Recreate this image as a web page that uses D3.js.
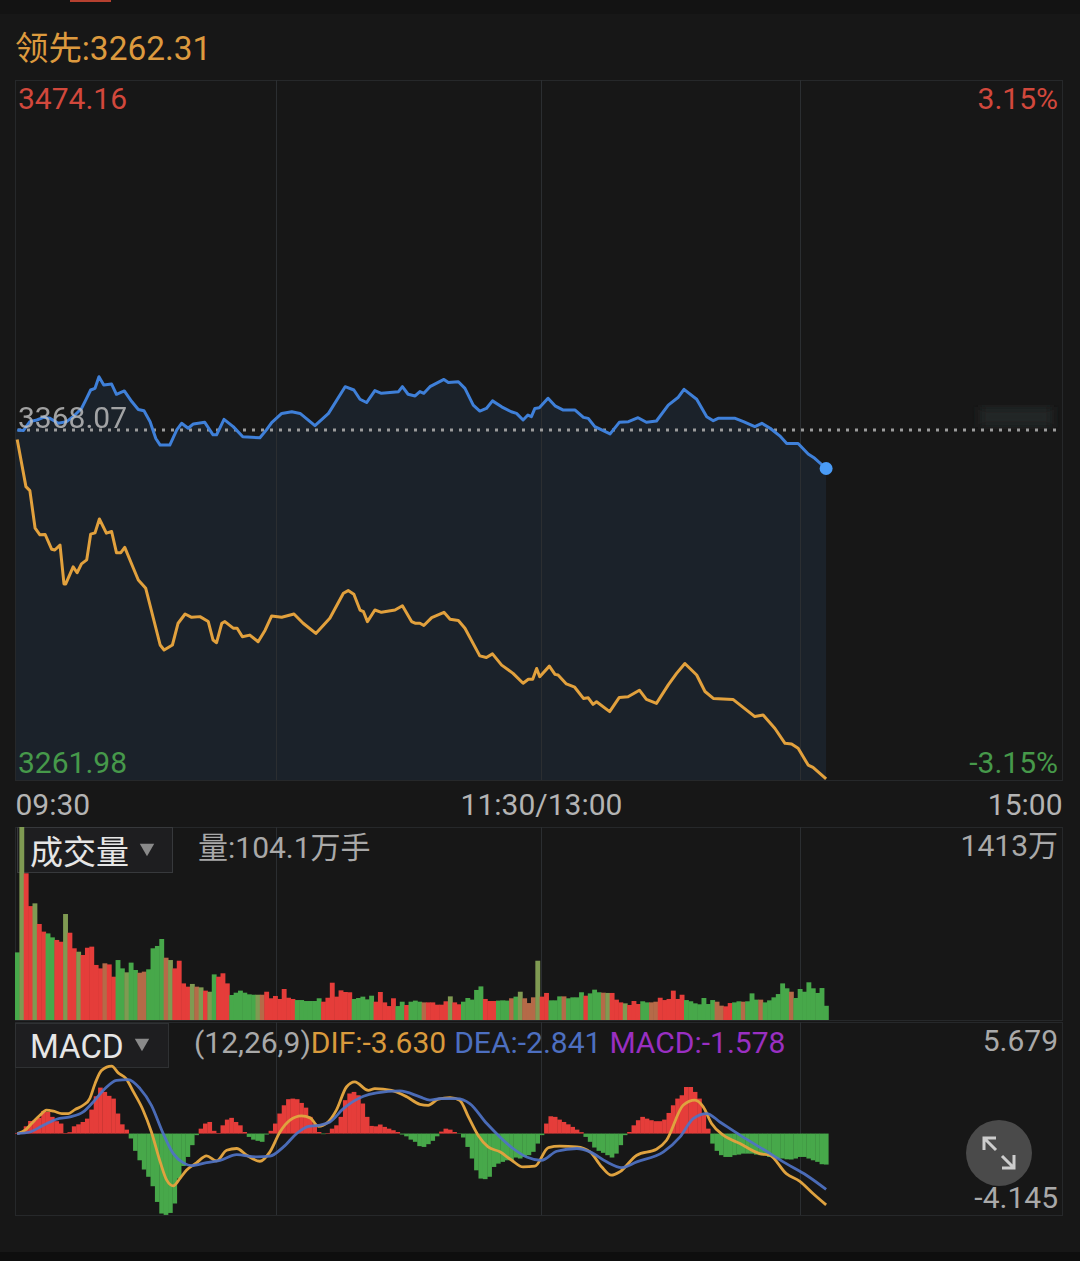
<!DOCTYPE html>
<html>
<head>
<meta charset="utf-8">
<script src="https://cdn.jsdelivr.net/npm/d3@7"></script>
<style>
    html, body { margin: 0; padding: 0; background: #171717; }
    text { font-family: Roboto, "Noto Sans CJK SC", sans-serif; }
</style>
</head>
<body>
<div id="chart"></div>
<script>
// values
const prevClose = 3368.07;
const priceTop = 3474.16;
const priceBottom = 3261.98;

const priceMin = [0,1.4,2.9,4.5,6,7.5,9.4,11.3,13.2,14.7,15.7,16.8,17.8,18.7,19.8,21.6,22.7,24.5,26.2,27.7,29,30.4,31.7,32.7,34.9,36.5,37.6,39.1,40.3,42.9,44.8,45.6,47.3,49.4,51.6,55.5,57,58.2,60.5,62.8,64.7,68.1,71.2,75,77,78.4,79.9,81.8,83.3,87.2,88.1,89.4,91,92.1,93,94.4,97.6,98.6,100.9,102.4,104.3,105.8,107.3,108.7,110.8,113,114.2,115.7,116.8,117.6,118.4,119.4,121.4,123,124.9,127.6,129.5,130.6,132.1,135.6,137.7,139.8,142,143.9,146.2,148.9,151.2,152.5,155.4,157.7,159.2,160.3,164.2,166.1,168.7,170.3,172.2,174.4,176,178.6,180.9,182.4,185];
const price = [3368.1,3367.9,3370.6,3371.1,3371.9,3371.6,3370.1,3370.6,3372.6,3374.6,3377.2,3380.2,3380.7,3384.2,3381.7,3382,3378.9,3379.9,3376.7,3374.3,3373.9,3370.6,3365.5,3363.5,3363.5,3368.1,3370.1,3368.6,3369.9,3370.4,3366.6,3366.6,3371.3,3369.1,3366,3365.7,3368.1,3370.3,3373.1,3373.6,3373.1,3369.4,3373.1,3381.2,3380.2,3377.4,3376.4,3380,3379.2,3379.7,3381.2,3378.9,3378.4,3379.7,3379.2,3381.2,3383.4,3382.5,3382.7,3380.7,3375.6,3373.8,3374.6,3376.9,3375.1,3373.6,3373.1,3371.1,3372.6,3372.1,3374.6,3374.8,3377.7,3375.4,3374.1,3374.1,3371.9,3371.6,3369.1,3366.9,3370.4,3370.6,3371.8,3370.4,3370.8,3375.6,3378,3380.4,3377.4,3372.1,3370.9,3371.6,3371.6,3370.6,3369.1,3370.1,3368.6,3366.3,3364,3364,3360.8,3359.5,3356.4];

const leadMin = [0,2,2.9,4.1,5.2,6.4,7.9,8.6,9.8,10.7,11.1,12.8,13.7,14.7,15.9,16.8,17.8,18.8,20.4,21.6,22.7,23.7,24.6,26.6,27.7,29.4,32.7,33.6,35.5,36.8,38.4,39.9,41.8,43.7,44.8,45.6,46.8,47.5,49.4,50.3,51.5,53.2,55.1,56.7,58.2,60.5,63.3,65.4,68.3,71.5,74.6,75.7,77,78.4,79.2,80.1,81.8,83.3,86.4,88.1,90.2,91,92.1,93,94.8,97.6,99,100.9,102.4,105.8,107.3,108.7,110.8,113.4,115.7,116.9,117.9,118.8,119.5,121.7,123,123.7,125.6,127.5,129.5,130.6,131.7,132.5,135.5,137.7,139.7,142.3,143.9,146.2,148.9,150.8,152.7,155.4,157.3,159.2,163.7,168.7,170.6,173.3,175.6,177.1,178.6,180.9,182,185];
const lead = [3365.2,3350.9,3349.7,3338.3,3336.3,3336.4,3331.9,3331.7,3333.2,3321.4,3321.4,3326.6,3324.8,3327.5,3328.7,3336.5,3336.9,3341.1,3336.8,3337.3,3330.9,3330.9,3332.5,3326.1,3322.6,3320.1,3302.9,3301.4,3302.9,3309.5,3312.3,3311.3,3311.5,3310,3304.4,3303.6,3309.5,3310,3308,3308,3305.4,3305.9,3303.9,3307.4,3311.7,3311.3,3312.3,3309.5,3306.4,3311,3318.6,3319.4,3318.3,3313.5,3313,3310,3313.5,3312.8,3313.5,3314.8,3310,3309.5,3309.5,3308.8,3311.2,3312.8,3310.7,3310.3,3308,3299.6,3299.1,3300.2,3296.8,3294.3,3291.3,3292.5,3292.5,3295.8,3293.3,3296.5,3294,3293.8,3291.1,3290.1,3286.7,3286.9,3284.9,3285.7,3282.7,3287,3287.2,3289.2,3286.4,3285.2,3290.8,3294.3,3297.3,3293.8,3288.8,3286.7,3286.4,3281.2,3281.7,3277.6,3273.1,3272.9,3271.6,3266.5,3265.8,3262.31];

// one bar per minute, in 万手
const volume = [495,1413,1074,834,854,703,647,634,605,586,
    573,776,639,525,500,476,529,537,403,378,
    415,407,317,439,378,349,420,366,346,354,
    371,525,542,593,456,439,378,434,268,244,
    264,244,239,215,207,334,317,342,268,183,
    200,215,200,188,185,185,185,207,159,176,
    154,227,163,154,146,146,139,139,139,159,
    134,163,273,171,217,205,203,154,161,171,
    151,178,134,205,129,102,159,102,134,110,
    134,142,134,129,129,129,112,112,137,173,
    129,115,134,161,149,220,246,154,139,139,
    142,144,142,159,171,207,159,124,166,434,
    171,198,144,144,173,173,159,166,166,203,
    178,195,222,203,200,198,198,149,129,122,
    110,139,117,137,129,129,134,163,146,154,
    215,154,185,146,137,122,115,161,117,146,
    134,105,100,124,129,137,134,137,195,149,
    149,129,144,166,190,268,232,207,161,227,
    207,276,232,198,234,104.1];

// r = up, g = down, o / b = the muddy bars where red and green blend
const volumeSide = ("gorrorrggr" + "rorrorrrrr" + "brrggoggbb" + "ggggborrrr" + "oborogrrrg" +
    "gggggobrrr" + "rrrrgggggg" + "rrrrrrrggg" + "ggrrrrrggr" + "gggbrrrrro" +
    "rrgggggrrr" + "gggbgobbbo" + "rrgggbgggg" + "rgggborrro" + "rrrggbbrrr" +
    "rrrggggggg" + "bbrrggbggg" + "bggggggbgg" + "gggggg").split("");

const macd = [.03,.08,.37,.64,.68,.80,1.15,1.10,.85,.63,
    .51,.03,.07,.37,.47,.59,.76,1.22,1.90,2.34,
    2.12,1.92,1.78,1.02,.47,.20,-.25,-.88,-1.36,-1.83,
    -2.20,-2.68,-3.48,-4.07,-4.14,-4.04,-3.56,-2.29,-1.65,-1.19,
    -.59,-.08,.25,.51,.59,.14,.03,.42,.71,.80,
    .59,.42,.08,-.17,-.31,-.37,-.42,-.05,.14,.51,
    1.02,1.44,1.75,1.78,1.75,1.56,1.32,.85,.51,.08,
    -.03,.03,.25,.42,.85,1.70,2.04,2.12,1.95,1.53,
    .85,.39,.37,.46,.34,.25,.17,.08,-.05,-.14,
    -.31,-.42,-.64,-.68,-.54,-.37,-.14,.10,.25,.20,
    .08,-.02,-.20,-.68,-1.27,-1.87,-2.29,-2.32,-2.20,-1.70,
    -1.53,-1.44,-1.36,-1.36,-1.22,-1.27,-1.19,-1.10,-.93,-.51,
    -.08,.51,.88,.85,.71,.59,.47,.34,.20,.07,
    -.17,-.42,-.71,-.88,-.98,-1.10,-1.22,-1.02,-.59,-.08,
    .08,.42,.68,.85,.76,.68,.63,.63,.71,1.05,
    1.44,1.78,1.95,2.37,2.37,2.12,1.78,1.02,.25,-.51,
    -.88,-1.10,-1.19,-1.19,-1.10,-1.07,-1.02,-1.02,-1.02,-1.07,
    -1.10,-1.10,-1.19,-1.22,-1.27,-1.27,-1.31,-1.32,-1.27,-1.19,
    -1.19,-1.27,-1.36,-1.44,-1.56,-1.578];

const difMin = [0,1.8,3.3,5.2,6.7,8.3,10.2,11.7,13.2,15.1,16.6,17.8,19.3,21.6,23.1,24.9,26.6,28.8,30.7,32.7,34.2,35.7,37.2,38.7,41,43.3,45.6,47.9,50.2,52.5,55.5,57.8,60.1,62.4,65,67,68.9,71.1,73,75.3,77.2,80.3,81.8,85.6,89.1,92.1,94,96.3,99,101.2,103.2,105.4,107.7,110.4,113.1,115.7,118.4,121.5,124.1,128,131,133.7,135.9,137.8,141.7,146.2,148.5,152.3,155,156.9,158.8,161.5,165.3,169.8,172.1,175.9,179,182,185];
const dif = [0,.17,.51,.93,1.19,1.14,1.02,1.02,1.22,1.44,1.78,2.54,3.22,3.43,3.09,2.80,2.12,1.19,.08,-1.44,-2.37,-2.66,-2.29,-1.87,-1.49,-1.14,-1.39,-.85,-.76,-1.10,-1.41,-.93,.08,.68,.90,.80,.37,.59,1.19,2.37,2.63,2.20,2.29,2.20,1.87,1.49,1.44,1.75,1.83,1.70,.85,-.08,-.68,-.93,-1.36,-1.70,-1.66,-.71,-.64,-.68,-.93,-1.70,-2.12,-1.95,-1.10,-.80,-.34,1.44,1.70,1.36,.51,-.08,-.51,-1.02,-1.10,-2.04,-2.43,-3.05,-3.63];

const deaMin = [0,2.9,6,9,12.1,15.1,17.4,20.1,22.7,25.4,28.1,30.7,33.4,35.7,38,39.9,43.3,46.4,50.2,54.8,57.8,60.9,63.9,66.6,68.9,71.5,74.6,79.2,82.2,87.5,92.1,94.4,96.7,100.5,103.5,107.4,110.4,113.4,116.5,119.9,123.4,128,131,134.8,138.2,141.7,147.8,151.6,154.6,157.7,160.7,165.3,170.6,175.9,180.5,185];
const dea = [0,.08,.42,.73,.85,1.10,1.61,2.29,2.71,2.75,2.29,1.44,0,-1.02,-1.49,-1.63,-1.48,-1.36,-1.07,-1.19,-1.15,-.68,0,.37,.42,.59,1.27,1.90,2.07,2.17,1.87,1.70,1.78,1.78,1.53,.51,-.17,-.76,-1.19,-1.36,-.90,-.76,-.93,-1.44,-1.73,-1.44,-.93,-.17,.76,1.02,.59,-.08,-.80,-1.53,-2.12,-2.84];

const gridMinutes = [60, 120, 180];
const timeTicks = [0, 120, 240];
const timeLabels = ["09:30", "11:30/13:00", "15:00"];

const W = 1080, H = 1261;
const left = 15, right = 1062;
const red = "#e53d3a", green = "#47a84a";
const orange = "#e2a13d", blue = "#3f80d9";

const svg = d3.select("#chart").append("svg")
    .attr("width", W)
    .attr("height", H)
    .style("display", "block");

svg.append("rect").attr("width", W).attr("height", H).attr("fill", "#171717");

// top strip
svg.append("rect").attr("width", W).attr("height", 14).attr("fill", "#131313");
svg.append("rect").attr("x", 70).attr("width", 41).attr("height", 2).attr("fill", "#b5402f");
svg.append("rect").attr("y", 1252).attr("width", W).attr("height", 9).attr("fill", "#0e0e0e");

// Scales
const timeX = d3.scaleLinear().domain([0, 60, 120, 180, 240]).range([left, 276, 541, 800, right]);
const barX = d3.scaleBand().domain(d3.range(volume.length)).range([left, 828.3]);
const lineX = d3.scaleLinear()
    .domain([0, volume.length - 1])
    .range([barX(0) + barX.bandwidth() / 2, barX(volume.length - 1) + barX.bandwidth() / 2]);

const priceY = d3.scaleLinear().domain([priceBottom, priceTop]).range([780, 80]);
const volY = d3.scaleLinear().domain([0, 1413]).range([1020, 827]);
const macdY = d3.scaleLinear().domain([-4.145, 5.679]).range([1215, 1022]);

// price panel fill
const pricePts = priceMin.map((m, i) => [m, price[i]]);
const leadPts = leadMin.map((m, i) => [m, lead[i]]);

svg.append("path")
    .datum(pricePts)
    .attr("fill", "#1b222a")
    .attr("d", d3.area().x((d, i) => i === 0 ? left : lineX(d[0])).y0(780).y1(d => priceY(d[1])));

// panel frames and grid
const panels = [[80, 780], [827, 1020], [1022, 1215]];
panels.forEach(p => {
    svg.append("rect")
        .attr("x", left + 0.5).attr("y", p[0] + 0.5)
        .attr("width", right - left).attr("height", p[1] - p[0])
        .attr("fill", "none")
        .attr("stroke", "#26282a");
    svg.selectAll(null)
        .data(gridMinutes)
        .enter().append("line")
        .attr("x1", d => timeX(d) + 0.5).attr("x2", d => timeX(d) + 0.5)
        .attr("y1", p[0]).attr("y2", p[1])
        .attr("stroke", "#2b2e31");
});

// smudge left over at the right of the base line
svg.append("filter").attr("id", "smudge").append("feGaussianBlur").attr("stdDeviation", 5);
svg.append("rect")
    .attr("x", 980).attr("y", 407).attr("width", 72).attr("height", 20)
    .attr("fill", "#222626")
    .attr("filter", "url(#smudge)");

// base line
svg.append("line")
    .attr("x1", left + 3).attr("x2", right)
    .attr("y1", priceY(prevClose)).attr("y2", priceY(prevClose))
    .attr("stroke", "#9b9b9b")
    .attr("stroke-width", 3)
    .attr("stroke-dasharray", "3,6");

// price lines
const priceLine = d3.line().x(d => lineX(d[0])).y(d => priceY(d[1]));

svg.append("path").datum(leadPts)
    .attr("fill", "none").attr("stroke", orange).attr("stroke-width", 3)
    .attr("stroke-linejoin", "round")
    .attr("d", priceLine);

svg.append("path").datum(pricePts)
    .attr("fill", "none").attr("stroke", blue).attr("stroke-width", 3)
    .attr("stroke-linejoin", "round")
    .attr("d", priceLine);

svg.append("circle")
    .attr("cx", lineX(priceMin[priceMin.length - 1]))
    .attr("cy", priceY(price[price.length - 1]))
    .attr("r", 6.5)
    .attr("fill", "#4a9bf6");

// price labels
function label(x, y, txt, color, size, anchor, opacity) {
    return svg.append("text")
        .attr("x", x).attr("y", y)
        .attr("fill", color)
        .attr("font-size", size)
        .attr("text-anchor", anchor || "start")
        .attr("opacity", opacity === undefined ? 1 : opacity)
        .text(txt);
}

label(15, 60, "领先:3262.31", "#dd9a3e", 33.4);
label(18, 109, priceTop.toFixed(2), "#d2483c", 30);
label(1058, 109, "3.15%", "#d2483c", 30, "end");
label(18, 428, prevClose.toFixed(2), "#c4c4c4", 30, "start", 0.8);
label(18, 773, priceBottom.toFixed(2), "#46994a", 30);
label(1058, 773, "-3.15%", "#46994a", 30, "end");

// time axis
const timeAxis = d3.axisBottom(timeX)
    .tickValues(timeTicks)
    .tickSize(0)
    .tickPadding(0)
    .tickFormat((d, i) => timeLabels[i]);

const axisG = svg.append("g")
    .attr("transform", "translate(0,794)")
    .call(timeAxis);
axisG.select(".domain").remove();
axisG.selectAll("text")
    .attr("font-size", 30)
    .attr("font-family", "Roboto")
    .attr("fill", "#b4b4b4")
    .attr("dy", "0.71em")
    .attr("y", 0)
    .attr("text-anchor", (d, i) => ["start", "middle", "end"][i]);

// volume panel
const sideColor = { r: red, g: green, o: "#7f9a52", b: "#b56a48" };

svg.append("rect")
    .attr("x", 17.5).attr("y", 827.5).attr("width", 155).attr("height", 45)
    .attr("fill", "#1e1e20").attr("stroke", "#37393c");

svg.selectAll(".vol")
    .data(volume)
    .enter().append("rect")
    .attr("class", "vol")
    .attr("x", (d, i) => barX(i))
    .attr("y", d => volY(d))
    .attr("width", barX.bandwidth() + 0.5)
    .attr("height", d => volY(0) - volY(d))
    .attr("fill", (d, i) => sideColor[volumeSide[i]]);

label(30, 864, "成交量", "#e6e6e6", 33);
svg.append("path")
    .attr("d", d3.symbol().type(d3.symbolTriangle).size(90))
    .attr("transform", "translate(147,848) rotate(180)")
    .attr("fill", "#8a8a8a");
label(198, 858, "量:104.1万手", "#a9a9a9", 30);
label(1058, 856, "1413万", "#a9a9a9", 30, "end");

// MACD panel
svg.append("rect")
    .attr("x", 15.5).attr("y", 1023.5).attr("width", 153).attr("height", 44)
    .attr("fill", "#1e1e20").attr("stroke", "#2f3133");

svg.selectAll(".hist")
    .data(macd)
    .enter().append("rect")
    .attr("class", "hist")
    .attr("x", (d, i) => barX(i))
    .attr("y", d => macdY(Math.max(d, 0)))
    .attr("width", barX.bandwidth() + 0.3)
    .attr("height", d => Math.abs(macdY(d) - macdY(0)))
    .attr("fill", d => d >= 0 ? red : green);

const macdLine = d3.line()
    .x(d => lineX(d[0]))
    .y(d => macdY(d[1]))
    .curve(d3.curveMonotoneX);

svg.append("path").datum(difMin.map((m, i) => [m, dif[i]]))
    .attr("fill", "none").attr("stroke", "#dfa23f").attr("stroke-width", 2.8)
    .attr("d", macdLine);

svg.append("path").datum(deaMin.map((m, i) => [m, dea[i]]))
    .attr("fill", "none").attr("stroke", "#4f73c6").attr("stroke-width", 2.8)
    .attr("stroke-opacity", 0.92)
    .attr("d", macdLine);

label(30, 1058, "MACD", "#e6e6e6", 33);
svg.append("path")
    .attr("d", d3.symbol().type(d3.symbolTriangle).size(90))
    .attr("transform", "translate(142,1043) rotate(180)")
    .attr("fill", "#8a8a8a");

const legend = label(194, 1053, "", "#a9a9a9", 30);
legend.append("tspan").attr("fill", "#a9a9a9").text("(12,26,9)");
legend.append("tspan").attr("fill", "#d99a3c").text("DIF:-3.630");
legend.append("tspan").attr("fill", "#4d6fc0").attr("dx", 8).text("DEA:-2.841");
legend.append("tspan").attr("fill", "#9a2fc2").attr("dx", 8).text("MACD:-1.578");

label(1058, 1051, "5.679", "#a9a9a9", 30, "end");

// expand button
svg.append("circle")
    .attr("cx", 999).attr("cy", 1153).attr("r", 33)
    .attr("fill", "#4a4a4a");
const icon = svg.append("g")
    .attr("fill", "none").attr("stroke", "#cdcdcd").attr("stroke-width", 3);
icon.append("path").attr("d", "M996,1138H984V1150M984,1138L996,1150");
icon.append("path").attr("d", "M1002,1168H1014V1155M1014,1168L1002,1156");

label(1058, 1208, "-4.145", "#a9a9a9", 30, "end");
</script>
</body>
</html>
